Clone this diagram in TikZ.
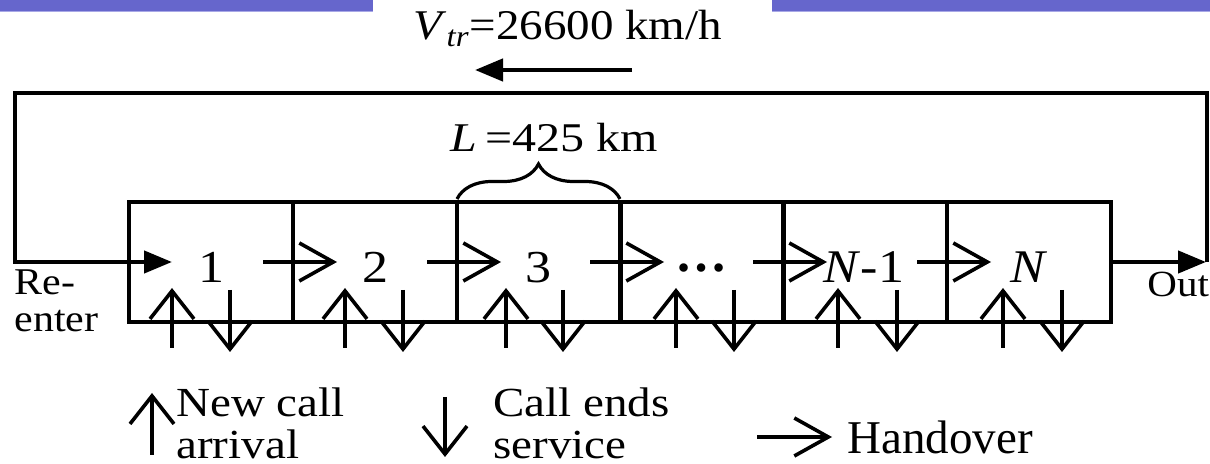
\documentclass[tikz,border=0pt]{standalone}
\usepackage{fontspec}
\setmainfont{Liberation Serif}
\usepackage{graphicx}
\usetikzlibrary{arrows.meta,decorations.pathreplacing,calc}
\definecolor{barblue}{HTML}{6666CC}
\definecolor{barlight}{HTML}{A8A8E6}
\newcommand{\sqz}[2]{\scalebox{1}[#1]{#2}}
\begin{document}
\begin{tikzpicture}[x=0.5pt,y=-0.5pt,
  loopline/.style={line width=2.2pt},
  bigtip/.style={-{Triangle[length=14pt,width=11pt]}},
  cellbox/.style={draw, line width=1.8pt, minimum width=82pt, minimum height=60pt, inner sep=0pt, outer sep=0pt, anchor=north west},
  hoarrow/.style={line width=1.8pt, -{Straight Barb[length=17pt,width=19pt]}},
  vtarrow/.style={line width=1.8pt, -{Straight Barb[length=14pt,width=22pt]}},
  numlbl/.style={anchor=base, inner sep=0pt, font=\fontsize{26}{30}\selectfont},
  txt/.style={anchor=base west, inner sep=0pt}
]
\useasboundingbox (0,0) rectangle (1210,464);

% top bars
\fill[barblue] (0,0) rectangle (373,11);
\fill[barlight] (0,11) rectangle (373,12.5);
\fill[barblue] (772,0) rectangle (1210,11);
\fill[barlight] (772,11) rectangle (1210,12.5);

% speed label and arrow
\node[txt, font=\fontsize{23.5}{28}\selectfont] (vtr) at (413,40) {\sqz{0.9}{\textit{V}\textsubscript{\textit{tr}}=26600 km/h}};
\coordinate (vtail) at (632,70);
\coordinate (vhead) at (475,70);
\draw[loopline, bigtip] (vtail) -- (vhead);

% boxes
\node[cellbox] (b1) at (129,202) {};
\node[cellbox] (b2) at (293,202) {};
\node[cellbox] (b3) at (457,202) {};
\node[cellbox] (b4) at (620,202) {};
\node[cellbox] (b5) at (783,202) {};
\node[cellbox] (b6) at (947,202) {};

% labels in boxes
\node[numlbl] (l1) at (211,283) {\sqz{0.88}{1}};
\node[numlbl] (l2) at (375,283) {\sqz{0.88}{2}};
\node[numlbl] (l3) at (538,283) {\sqz{0.88}{3}};
\node[numlbl] (l4) at (701,283) {\raisebox{5.5pt}{\bfseries …}};
\node[numlbl] (l5) at (864,283) {\sqz{0.9}{\textit{N}-1}};
\node[numlbl] (l6) at (1029,283) {\sqz{0.9}{\textit{N}}};

% brace and L label
\draw[line width=1.6pt, decorate, decoration={brace, amplitude=17.5pt}] (457,199) -- (620,199);
\node[txt, font=\fontsize{24}{28}\selectfont] (Llbl) at (450,152) {\sqz{0.85}{\textit{L}\,=425 km}};

% loop
\coordinate (outtip) at (1206,262);
\coordinate (tr) at (1207,93);
\coordinate (tl) at (15,93);
\coordinate (bl) at (15,262);
\coordinate (intip) at (172,262);
\draw[loopline] ($(outtip)+(1,0)$) -- (tr) -- (tl) -- (bl) -- ($(bl)+(1,0)$);
\draw[loopline, bigtip] (bl) -- (intip);
\draw[loopline, bigtip] (b6.east) -- (outtip);

\node[txt, font=\fontsize{21}{25}\selectfont] (reenter) at (14,295) {\sqz{0.9}{\vtop{\baselineskip=20.5pt\hbox{Re-}\hbox{enter}}}};
\node[txt, font=\fontsize{20.5}{25}\selectfont] (out) at (1147,297) {\sqz{0.9}{Out}};

% handover arrows
\foreach \b/\n in {293/1,457/2,620/3,783/4,947/5}{
  \coordinate (hs\n) at (\b-30,262);
  \coordinate (he\n) at (\b+44,262);
  \draw[hoarrow] (hs\n) -- (he\n);
}

% vertical arrows in boxes
\foreach \u/\d/\n in {172/230/1,345/403/2,506/563/3,676/734/4,838/897/5,1003/1062/6}{
  \coordinate (us\n) at (\u,348);
  \coordinate (ue\n) at (\u,288);
  \coordinate (ds\n) at (\d,290);
  \coordinate (de\n) at (\d,352);
  \draw[vtarrow] (us\n) -- (ue\n);
  \draw[vtarrow] (ds\n) -- (de\n);
}

% legend
\coordinate (lus) at (152,455);
\coordinate (lue) at (152,393);
\draw[vtarrow] (lus) -- (lue);
\node[txt, font=\fontsize{23.5}{28}\selectfont] (newcall) at (176,417) {\sqz{0.88}{\vtop{\baselineskip=23.3pt\hbox{New call}\hbox{arrival}}}};

\coordinate (lds) at (445,397);
\coordinate (lde) at (445,457);
\draw[vtarrow] (lds) -- (lde);
\node[txt, font=\fontsize{23.5}{28}\selectfont] (callends) at (493,417) {\sqz{0.88}{\vtop{\baselineskip=23.3pt\hbox{Call ends}\hbox{service}}}};

\coordinate (lhs) at (757,437);
\coordinate (lhe) at (832,437);
\draw[hoarrow] (lhs) -- (lhe);
\node[txt, font=\fontsize{23.5}{28}\selectfont] (handover) at (847,453) {Handover};
\end{tikzpicture}
\end{document}
